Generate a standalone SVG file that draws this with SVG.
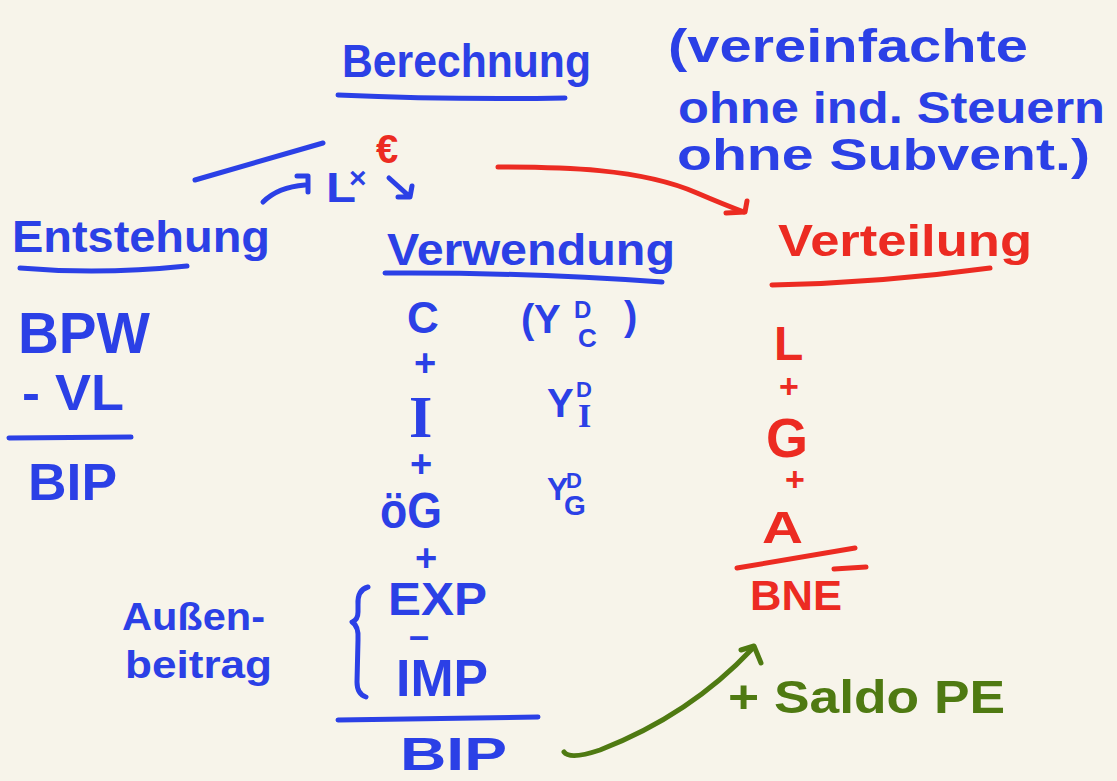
<svg xmlns="http://www.w3.org/2000/svg" width="1117" height="781" viewBox="0 0 1117 781">
<style>
text{font-family:"Liberation Sans","DejaVu Sans",sans-serif;font-weight:bold}
.b{fill:#2b40e6}
.r{fill:#ec2b22}
.g{fill:#4f7a12}
.sb{stroke:#2b40e6;stroke-width:5;fill:none;stroke-linecap:round;stroke-linejoin:round}
.sr{stroke:#ec2b22;stroke-width:5;fill:none;stroke-linecap:round;stroke-linejoin:round}
.sg{stroke:#4f7a12;stroke-width:5;fill:none;stroke-linecap:round;stroke-linejoin:round}
.serif{font-family:"Liberation Serif",serif}
</style>
<rect width="1117" height="781" fill="#f7f4ea"/>

<g id="title">
<text class="b" x="342" y="77" font-size="46" textLength="249" lengthAdjust="spacingAndGlyphs">Berechnung</text>
<path class="sb" d="M338,95 Q450,100 565,98"/>
</g>

<g id="note">
<text class="b" x="668" y="62" font-size="46" textLength="360" lengthAdjust="spacingAndGlyphs">(vereinfachte</text>
<text class="b" x="678" y="123" font-size="44" textLength="427" lengthAdjust="spacingAndGlyphs">ohne ind. Steuern</text>
<text class="b" x="677" y="170" font-size="44" textLength="413" lengthAdjust="spacingAndGlyphs">ohne Subvent.)</text>
</g>

<g id="euro">
<text class="r" x="376" y="163" font-size="40">€</text>
</g>

<g id="lx">
<text class="b" x="326" y="202" font-size="42" textLength="30" lengthAdjust="spacingAndGlyphs">L</text>
<text class="b" x="349" y="188" font-size="30">×</text>
</g>

<g id="entstehung">
<text class="b" x="12" y="252" font-size="44" textLength="258" lengthAdjust="spacingAndGlyphs">Entstehung</text>
<path class="sb" d="M20,268 Q100,275 187,266"/>
<text class="b" x="18" y="353" font-size="58" textLength="132" lengthAdjust="spacingAndGlyphs">BPW</text>
<text class="b" x="22" y="410" font-size="50" textLength="102" lengthAdjust="spacingAndGlyphs">- VL</text>
<path class="sb" d="M9,438 L131,437"/>
<text class="b" x="28" y="500" font-size="52" textLength="89" lengthAdjust="spacingAndGlyphs">BIP</text>
</g>

<g id="verwendung">
<text class="b" x="387" y="265" font-size="44" textLength="288" lengthAdjust="spacingAndGlyphs">Verwendung</text>
<path class="sb" d="M385,273 Q520,272 662,282"/>
<text class="b" x="407" y="333" font-size="44">C</text>
<text class="b" x="414" y="376" font-size="38">+</text>
<text class="b serif" x="409" y="437" font-size="60">I</text>
<text class="b" x="410" y="477" font-size="38">+</text>
<text class="b" x="380" y="528" font-size="50" textLength="62" lengthAdjust="spacingAndGlyphs">öG</text>
<text class="b" x="415" y="571" font-size="38">+</text>
<text class="b" x="388" y="615" font-size="46" textLength="99" lengthAdjust="spacingAndGlyphs">EXP</text>
<text class="b" x="409" y="648" font-size="36">–</text>
<text class="b" x="396" y="696" font-size="52" textLength="92" lengthAdjust="spacingAndGlyphs">IMP</text>
<path class="sb" d="M368,587 Q357,590 358,605 L358,612 Q358,620 352,622 Q359,626 358,640 L357,682 Q357,694 366,697"/>
<path class="sb" d="M338,720 L538,717"/>
<text class="b" x="400" y="770" font-size="46" textLength="107" lengthAdjust="spacingAndGlyphs">BIP</text>
</g>

<g id="yd">
<text class="b" x="521" y="333" font-size="40">(</text>
<text class="b" x="534" y="333" font-size="40">Y</text>
<text class="b" x="574" y="318" font-size="24">D</text>
<text class="b" x="578" y="347" font-size="26">C</text>
<text class="b" x="624" y="330" font-size="40">)</text>
<text class="b" x="547" y="417" font-size="40">Y</text>
<text class="b" x="576" y="397" font-size="22">D</text>
<text class="b serif" x="578" y="427" font-size="34">I</text>
<text class="b" x="547" y="500" font-size="32">Y</text>
<text class="b" x="566" y="488" font-size="22">D</text>
<text class="b" x="564" y="515" font-size="28">G</text>
</g>

<g id="aussenbeitrag">
<text class="b" x="122" y="630" font-size="38" textLength="143" lengthAdjust="spacingAndGlyphs">Außen-</text>
<text class="b" x="125" y="678" font-size="38" textLength="147" lengthAdjust="spacingAndGlyphs">beitrag</text>
</g>

<g id="verteilung">
<text class="r" x="778" y="256" font-size="44" textLength="254" lengthAdjust="spacingAndGlyphs">Verteilung</text>
<path class="sr" d="M772,285 Q880,283 990,268"/>
<text class="r" x="774" y="360" font-size="48">L</text>
<text class="r" x="779" y="398" font-size="34">+</text>
<text class="r" x="766" y="457" font-size="56" textLength="42" lengthAdjust="spacingAndGlyphs">G</text>
<text class="r" x="785" y="491" font-size="34">+</text>
<text class="r" x="762" y="543" font-size="44" textLength="41" lengthAdjust="spacingAndGlyphs">A</text>
<path class="sr" d="M737,568 L855,548"/>
<path class="sr" d="M834,569 L866,567"/>
<text class="r" x="750" y="610" font-size="42" textLength="92" lengthAdjust="spacingAndGlyphs">BNE</text>
</g>

<g id="saldo">
<text class="g" x="728" y="713" font-size="46" textLength="277" lengthAdjust="spacingAndGlyphs">+ Saldo PE</text>
</g>

<g id="connectors">
<path class="sb" d="M195,180 L323,143"/>
<path class="sb" d="M263,202 Q278,187 305,185"/>
<path class="sb" d="M297,176 L308,176 L308,192"/>
<path class="sb" d="M389,178 L409,196 M398,197 L410,197 L412,186"/>
<path class="sr" d="M498,167 C560,167 640,168 697,193 Q725,205 744,212"/>
<path class="sr" d="M726,213 L745,212 L747,201"/>
<path class="sg" d="M564,752 Q570,760 600,750 Q690,715 752,649"/>
<path class="sg" d="M741,650 L754,646 L761,663"/>
</g>
</svg>
